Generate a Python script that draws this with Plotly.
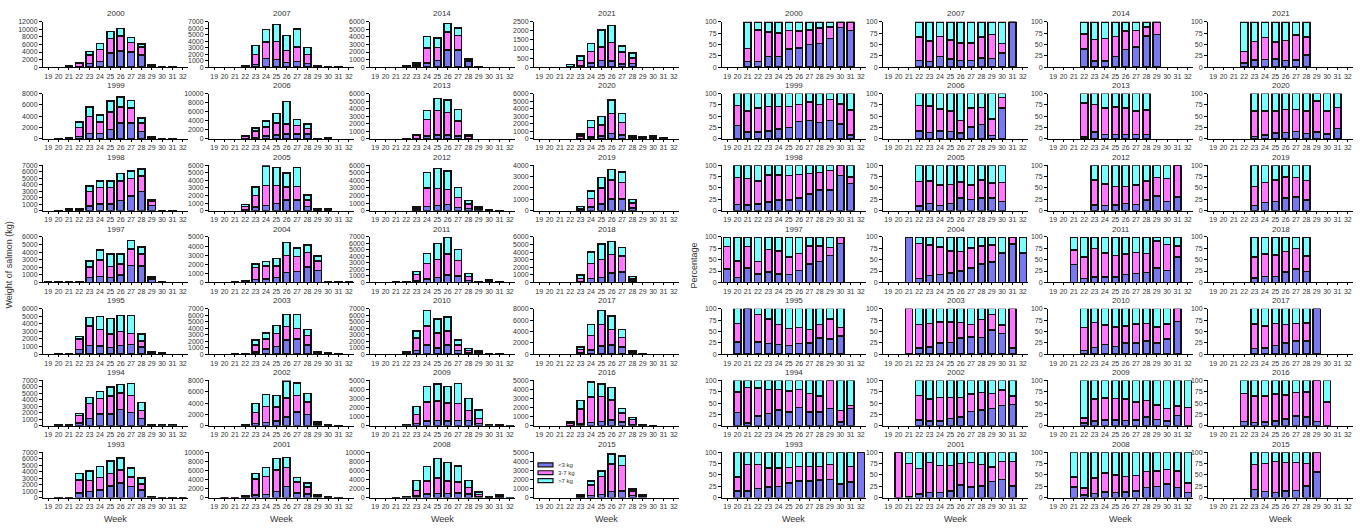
import plotly.graph_objects as go

N = None
WEEKS = list(range(19, 33))
SIZE_CLASSES = ["<3 kg", "3-7 kg", ">7 kg"]
COLORS = ["#7878F0", "#FF78FF", "#78FFFF"]

YEARS_GRID = [
    [2000, 2007, 2014, 2021],
    [1999, 2006, 2013, 2020],
    [1998, 2005, 2012, 2019],
    [1997, 2004, 2011, 2018],
    [1995, 2003, 2010, 2017],
    [1994, 2002, 2009, 2016],
    [1993, 2001, 2008, 2015],
]

# left-panel axis maxima and tick steps (kg)
Y_MAX = {2000: 12000, 1999: 8000, 1998: 7000, 1997: 6000, 1995: 6000, 1994: 7000, 1993: 7000,
         2007: 7000, 2006: 10000, 2005: 6000, 2004: 5000, 2003: 7000, 2002: 8000, 2001: 10000,
         2014: 6000, 2013: 6000, 2012: 6000, 2011: 7000, 2010: 7000, 2009: 5000, 2008: 10000,
         2021: 2500, 2020: 6000, 2019: 4000, 2018: 6000, 2017: 8000, 2016: 5000, 2015: 5000}
Y_STEP = {2000: 2000, 1999: 2000, 1998: 1000, 1997: 1000, 1995: 1000, 1994: 1000, 1993: 1000,
          2007: 1000, 2006: 2000, 2005: 1000, 2004: 1000, 2003: 1000, 2002: 2000, 2001: 2000,
          2014: 1000, 2013: 1000, 2012: 1000, 2011: 1000, 2010: 1000, 2009: 1000, 2008: 2000,
          2021: 500, 2020: 1000, 2019: 1000, 2018: 1000, 2017: 2000, 2016: 1000, 2015: 1000}

# total weight of salmon per week (kg), weeks 19..32
TOTAL_KG = {
    2000: [0, 0, 300, 1100, 4100, 6200, 9400, 10250, 7900, 6130, 600, 150, 50, 0],
    1999: [0, 100, 230, 3000, 5600, 4250, 6650, 7350, 6750, 3650, 350, 50, 50, 0],
    1998: [0, 50, 250, 360, 3830, 4600, 4600, 5720, 6080, 6390, 1690, 40, 40, 0],
    1997: [50, 100, 100, 100, 2800, 4250, 3750, 3750, 5550, 4650, 800, 100, 0, 0],
    1995: [0, 50, 50, 2300, 4820, 4990, 4690, 5080, 5080, 2630, 300, 150, 0, 0],
    1994: [0, 100, 100, 1890, 4340, 5260, 5980, 6340, 6540, 3580, 100, 100, 100, 0],
    1993: [0, 50, 50, 3730, 4080, 4780, 5640, 6140, 4580, 3020, 200, 50, 50, 50],
    2007: [0, 0, 0, 150, 3370, 5820, 6540, 4900, 5880, 3010, 250, 100, 50, 0],
    2006: [0, 0, 0, 700, 2400, 3900, 5600, 8200, 4300, 3250, 50, 150, 0, 0],
    2005: [0, 0, 0, 830, 3110, 5910, 5690, 4950, 5690, 2060, 280, 250, 0, 0],
    2004: [0, 0, 30, 200, 2030, 2280, 2640, 4380, 3770, 4090, 2900, 50, 50, 50],
    2003: [0, 0, 30, 100, 2150, 3270, 4450, 6130, 6080, 3780, 360, 250, 50, 0],
    2002: [0, 0, 0, 250, 3970, 5550, 5370, 7880, 7590, 5720, 650, 250, 100, 0],
    2001: [0, 30, 50, 300, 5320, 6620, 8630, 8850, 4460, 3170, 600, 200, 50, 0],
    2014: [0, 0, 0, 200, 520, 4030, 3850, 5780, 5170, 1100, 80, 0, 0, 0],
    2013: [0, 0, 0, 30, 570, 3740, 5350, 5130, 3910, 570, 0, 0, 0, 0],
    2012: [0, 0, 0, 0, 525, 5040, 5560, 5210, 3070, 1360, 480, 100, 30, 0],
    2011: [0, 0, 100, 150, 1670, 4460, 5990, 6900, 5070, 1370, 100, 400, 150, 0],
    2010: [0, 0, 0, 410, 3580, 6740, 5420, 5720, 2150, 870, 510, 50, 30, 0],
    2009: [0, 0, 0, 100, 2120, 4310, 4600, 4310, 4670, 2990, 1750, 100, 100, 50],
    2008: [0, 0, 50, 100, 3740, 6830, 8560, 7700, 6980, 3810, 1220, 250, 720, 50],
    2021: [0, 0, 0, 140, 620, 1310, 2040, 2300, 1170, 770, 0, 0, 0, 0],
    2020: [0, 0, 0, 0, 650, 2450, 2960, 5130, 3350, 350, 250, 400, 100, 0],
    2019: [0, 0, 0, 0, 350, 1750, 2920, 3620, 3390, 990, 0, 0, 0, 0],
    2018: [0, 0, 0, 0, 950, 4040, 5040, 5390, 4610, 750, 0, 0, 0, 0],
    2017: [0, 0, 0, 0, 1280, 5260, 7710, 6720, 4320, 580, 30, 0, 0, 0],
    2016: [0, 0, 0, 440, 2810, 4820, 4600, 4200, 1900, 910, 100, 30, 0, 0],
    2015: [0, 0, 0, 0, 360, 1830, 2910, 4820, 4570, 970, 290, 0, 0, 0],
}

# percentage of weight in <3 kg class, weeks 19..32
PCT_LT3 = {
    2000: [N, N, 12, 13, 24, 24, 40, 42, 50, 52, 63, 87, 81, N],
    1999: [N, 29, 15, 15, 17, 22, 25, 38, 41, 36, 41, 33, 9, N],
    1998: [N, 14, 12, 15, 19, 23, 23, 28, 37, 46, 46, 77, 60, N],
    1997: [30, 11, 32, 18, 23, 18, 17, 26, 40, 46, 59, 86, N, N],
    1995: [N, 27, 100, 27, 23, 21, 19, 23, 25, 36, 33, 40, N, N],
    1994: [N, 29, 6, 22, 27, 35, 30, 40, 31, 31, 38, 9, 38, N],
    1993: [N, 15, 15, 20, 23, 24, 32, 37, 37, 39, 40, 30, 34, 100],
    2007: [N, N, N, 15, 13, 23, 18, 15, 15, 20, 19, 31, 100, N],
    2006: [N, N, N, 17, 14, 17, 16, 13, 26, 32, 7, 68, N, N],
    2005: [N, N, N, 10, 16, 11, 16, 28, 25, 28, 28, 20, N, N],
    2004: [N, N, 100, 9, 15, 17, 21, 25, 32, 41, 45, 65, 84, 65],
    2003: [N, N, 0, 14, 16, 25, 26, 35, 38, 37, 53, 45, 14, N],
    2002: [N, N, N, 13, 11, 11, 16, 20, 32, 35, 38, 45, 47, N],
    2001: [N, 0, 2, 8, 11, 11, 15, 28, 23, 25, 35, 40, 25, N],
    2014: [N, N, N, 40, 14, 14, 23, 39, 44, 69, 72, N, N, N],
    2013: [N, N, N, 4, 15, 10, 10, 10, 10, 10, N, N, N, N],
    2012: [N, N, N, N, 12, 11, 12, 16, 14, 23, 32, 20, 30, N],
    2011: [N, N, 39, 8, 12, 12, 12, 17, 20, 22, 32, 26, 56, N],
    2010: [N, N, N, 8, 15, 21, 17, 25, 25, 29, 25, 33, 72, N],
    2009: [N, N, N, 6, 11, 13, 13, 12, 13, 19, 14, 11, 23, 0],
    2008: [N, N, 23, 6, 9, 12, 11, 12, 14, 22, 24, 30, 22, 11],
    2021: [N, N, N, 9, 16, 17, 18, 15, 16, 27, N, N, N, N],
    2020: [N, N, N, N, 5, 9, 13, 14, 16, 12, 15, 11, 23, N],
    2019: [N, N, N, N, 11, 18, 20, 28, 30, 23, N, N, N, N],
    2018: [N, N, N, N, 10, 13, 13, 23, 30, 24, N, N, N, N],
    2017: [N, N, N, N, 12, 14, 19, 24, 29, 29, 100, N, N, N],
    2016: [N, N, N, 10, 7, 8, 11, 15, 22, 19, 10, 0, N, N],
    2015: [N, N, N, N, 18, 13, 11, 14, 16, 26, 56, N, N, N],
}

# percentage of weight in 3-7 kg class, weeks 19..32
PCT_3TO7 = {
    2000: [N, N, 29, 69, 53, 51, 41, 38, 32, 34, 25, 13, 19, N],
    1999: [N, 45, 47, 53, 54, 49, 46, 38, 40, 40, 46, 44, 55, N],
    1998: [N, 59, 59, 50, 59, 55, 54, 52, 45, 38, 42, 23, 14, N],
    1997: [49, 36, 47, 28, 49, 51, 39, 38, 40, 34, 18, 14, N, N],
    1995: [N, 41, 0, 60, 54, 44, 37, 36, 29, 29, 44, 19, N, N],
    1994: [N, 46, 78, 61, 53, 45, 47, 40, 40, 35, 62, 25, 7, N],
    1993: [N, 30, 58, 53, 42, 41, 34, 32, 32, 30, 33, 1, 34, 0],
    2007: [N, N, N, 51, 45, 44, 42, 38, 38, 46, 53, 21, 0, N],
    2006: [N, N, N, 57, 59, 49, 46, 27, 42, 37, 37, 23, N, N],
    2005: [N, N, N, 54, 49, 45, 42, 35, 31, 40, 33, 42, N, N],
    2004: [N, N, 0, 77, 67, 61, 48, 43, 44, 39, 37, 0, 16, 0],
    2003: [N, N, 100, 51, 51, 46, 45, 35, 27, 39, 34, 19, 86, N],
    2002: [N, N, N, 54, 48, 51, 46, 42, 38, 39, 33, 34, 19, N],
    2001: [N, 100, 73, 56, 66, 60, 56, 47, 54, 48, 32, 40, 54, N],
    2014: [N, N, N, 33, 47, 49, 44, 41, 37, 19, 28, N, N, N],
    2013: [N, N, N, 75, 61, 58, 60, 58, 51, 54, N, N, N, N],
    2012: [N, N, N, N, 56, 48, 41, 37, 43, 42, 41, 51, 70, N],
    2011: [N, N, 32, 48, 63, 53, 47, 46, 46, 42, 59, 57, 24, N],
    2010: [N, N, N, 51, 55, 43, 43, 37, 41, 39, 35, 33, 28, N],
    2009: [N, N, N, 11, 48, 48, 47, 47, 40, 37, 32, 27, 21, 40],
    2008: [N, N, 22, 15, 34, 42, 39, 35, 35, 36, 35, 32, 37, 21],
    2021: [N, N, N, 25, 41, 48, 37, 44, 55, 39, N, N, N, N],
    2020: [N, N, N, N, 57, 52, 48, 51, 49, 49, 69, 51, 46, N],
    2019: [N, N, N, N, 42, 44, 48, 46, 43, 43, N, N, N, N],
    2018: [N, N, N, N, 46, 49, 47, 45, 45, 34, N, N, N, N],
    2017: [N, N, N, N, 54, 48, 49, 41, 38, 40, 0, N, N, N],
    2016: [N, N, N, 61, 59, 58, 59, 53, 52, 56, 90, 53, N, N],
    2015: [N, N, N, N, 55, 62, 69, 63, 61, 49, 44, N, N, N],
}

W, H = 1368, 530
FONT = "Liberation Sans, Arial, sans-serif"
LEFT_COLS = [(43, 188), (209, 354), (370, 515), (534, 679)]
RIGHT_COLS = [(722, 866), (883, 1028), (1048, 1193), (1208, 1353)]
ROW_TOP0, ROW_H, ROW_PITCH = 18, 46, 72.7


def px(x):
    return x / W


def py(y):
    return 1 - y / H


def class_shares(year):
    lt3 = PCT_LT3[year]
    mid = PCT_3TO7[year]
    big = [None if a is None else 100 - a - b for a, b in zip(lt3, mid)]
    return [lt3, mid, big]


fig = go.Figure()
layout = {}
annotations = []
panel = 0

for side in ("kg", "pct"):
    cols = LEFT_COLS if side == "kg" else RIGHT_COLS
    for r, row in enumerate(YEARS_GRID):
        for c, year in enumerate(row):
            panel += 1
            xa = "x" if panel == 1 else f"x{panel}"
            ya = "y" if panel == 1 else f"y{panel}"
            x0, x1 = cols[c]
            top = ROW_TOP0 + r * ROW_PITCH
            bot = top + ROW_H
            shares = class_shares(year)
            for k in range(3):
                if side == "kg":
                    vals = [None if (s is None or t == 0) else t * s / 100.0
                            for s, t in zip(shares[k], TOTAL_KG[year])]
                else:
                    vals = shares[k]
                fig.add_trace(go.Bar(
                    x=WEEKS, y=vals, xaxis=xa, yaxis=ya,
                    name=SIZE_CLASSES[k], showlegend=False,
                    marker=dict(color=COLORS[k], line=dict(color="#111111", width=1.5)),
                    hoverinfo="skip",
                ))
            if side == "kg":
                ymax, ystep = Y_MAX[year], Y_STEP[year]
            else:
                ymax, ystep = 100, 25
            xkey = "xaxis" if panel == 1 else f"xaxis{panel}"
            ykey = "yaxis" if panel == 1 else f"yaxis{panel}"
            layout[xkey] = dict(
                domain=[px(x0), px(x1)], anchor=ya, range=[18.5, 32.5],
                tickmode="array", tickvals=WEEKS, ticktext=[str(w) for w in WEEKS],
                showline=True, linecolor="#000000", linewidth=1,
                ticks="outside", ticklen=2, tickcolor="#000000",
                showgrid=False, zeroline=False, fixedrange=True,
                tickfont=dict(size=7, color="#333333", family=FONT),
            )
            layout[ykey] = dict(
                domain=[py(bot), py(top)], anchor=xa, range=[0, ymax],
                tickmode="linear", tick0=0, dtick=ystep, tickformat="d",
                showline=True, linecolor="#000000", linewidth=1,
                ticks="outside", ticklen=3, tickcolor="#000000",
                showgrid=False, zeroline=False, fixedrange=True,
                tickfont=dict(size=7, color="#333333", family=FONT),
            )
            annotations.append(dict(
                text=str(year), x=px((x0 + x1) / 2), y=py(top - 8),
                xref="paper", yref="paper", showarrow=False,
                xanchor="center", yanchor="middle",
                font=dict(size=8, color="#333333", family=FONT),
            ))
    for (x0, x1) in cols:
        annotations.append(dict(
            text="Week", x=px((x0 + x1) / 2), y=py(522), xref="paper", yref="paper",
            showarrow=False, xanchor="center", yanchor="middle",
            font=dict(size=9, color="#333333", family=FONT),
        ))

annotations.append(dict(
    text="Weight of salmon (kg)", x=px(8), y=py(265), xref="paper", yref="paper",
    showarrow=False, textangle=-90, xanchor="center", yanchor="middle",
    font=dict(size=9, color="#333333", family=FONT),
))
annotations.append(dict(
    text="Percentage", x=px(693), y=py(265), xref="paper", yref="paper",
    showarrow=False, textangle=-90, xanchor="center", yanchor="middle",
    font=dict(size=9, color="#333333", family=FONT),
))

# legend (drawn inside the 2015 panel)
shapes = []
for k, (lab, col) in enumerate(zip(SIZE_CLASSES, COLORS)):
    yc = 467 + k * 8
    shapes.append(dict(type="rect", xref="paper", yref="paper",
                       x0=px(538), x1=px(553), y0=py(yc + 2), y1=py(yc - 2),
                       fillcolor=col, line=dict(color="#111111", width=1.2)))
    annotations.append(dict(
        text=lab, x=px(556), y=py(yc), xref="paper", yref="paper", showarrow=False,
        xanchor="left", yanchor="middle", font=dict(size=6, color="#333333", family=FONT),
    ))

fig.update_layout(
    **layout,
    annotations=annotations, shapes=shapes,
    barmode="stack", bargap=0.32,
    width=W, height=H, margin=dict(l=0, r=0, t=0, b=0),
    paper_bgcolor="white", plot_bgcolor="white",
    font=dict(family=FONT, color="#333333"),
    showlegend=False, hovermode=False,
)

fig.write_html("out.html", config={"displayModeBar": False, "staticPlot": True},
               post_script="document.body.style.margin='0px';")
